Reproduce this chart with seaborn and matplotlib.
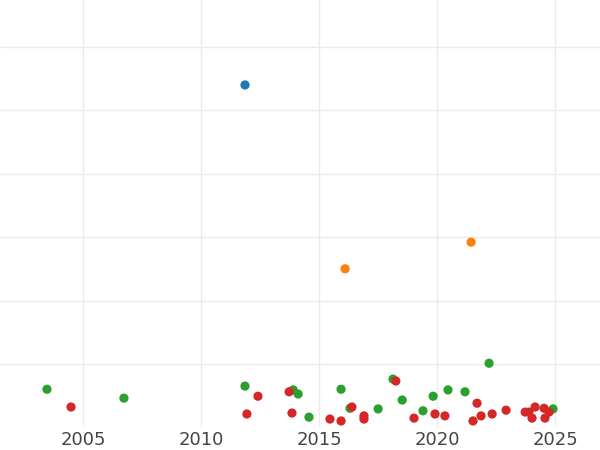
import matplotlib
matplotlib.use("Agg")
import matplotlib.pyplot as plt
import seaborn as sns
import pandas as pd

# values
blue_year = [2011.85]
blue_val = [54.0]

orange_year = [2016.09, 2021.43]
orange_val = [25.0, 29.2]

green_year = [2003.46, 2006.72, 2011.85, 2013.89, 2014.10, 2014.56, 2015.92, 2016.30,
              2017.49, 2018.12, 2018.51, 2019.39, 2019.82, 2020.45, 2021.17, 2022.19,
              2024.90]
green_val = [6.0, 4.6, 6.5, 5.9, 5.25, 1.6, 6.0, 3.0,
             2.9, 7.6, 4.3, 2.6, 4.9, 5.9, 5.6, 10.1,
             2.9]

red_year = [2004.48, 2012.40, 2011.93, 2013.72, 2013.84, 2015.45, 2015.92, 2016.38,
            2016.89, 2016.89, 2018.24, 2019.01, 2019.90, 2020.32, 2021.68, 2021.51,
            2021.85, 2022.32, 2022.91, 2023.72, 2023.88, 2024.01, 2024.14, 2024.52,
            2024.73, 2024.56]
red_val = [3.2, 4.9, 2.1, 5.6, 2.25, 1.3, 1.0, 3.2,
           1.8, 1.3, 7.3, 1.45, 2.1, 1.8, 3.8, 1.0,
           1.8, 2.1, 2.7, 2.4, 2.4, 1.45, 3.2, 3.0,
           2.4, 1.45]

groups = ["A", "B", "C", "D"]
colors = ["#1f77b4", "#ff7f0e", "#2ca02c", "#d62728"]

df = pd.concat([
    pd.DataFrame({"year": blue_year, "value": blue_val, "group": "A"}),
    pd.DataFrame({"year": orange_year, "value": orange_val, "group": "B"}),
    pd.DataFrame({"year": green_year, "value": green_val, "group": "C"}),
    pd.DataFrame({"year": red_year, "value": red_val, "group": "D"}),
], ignore_index=True)

sns.set_style("whitegrid", {"grid.color": "#ebebeb", "axes.edgecolor": "white"})

fig = plt.figure(figsize=(6, 4.5), dpi=100)
ax = fig.add_axes([0, 22.7 / 450, 1, 427.3 / 450])

sns.scatterplot(data=df, x="year", y="value", hue="group", hue_order=groups,
                palette=colors, s=44, linewidth=0, alpha=1, legend=False, ax=ax)

ax.set_xlim(2001.47, 2026.89)
ax.set_ylim(0, 67.4)
ax.set_xticks([2005, 2010, 2015, 2020, 2025])
# no grid line on the bottom edge
ax.set_yticks([10, 20, 30, 40, 50, 60])
ax.grid(True, linewidth=1.0)
ax.set_yticklabels([])
ax.tick_params(axis="both", length=0)
ax.tick_params(axis="x", labelsize=13, labelcolor="#444444", pad=3)
ax.set_xlabel("")
ax.set_ylabel("")
for sp in ax.spines.values():
    sp.set_visible(False)

fig.savefig("out.png", dpi=100)
